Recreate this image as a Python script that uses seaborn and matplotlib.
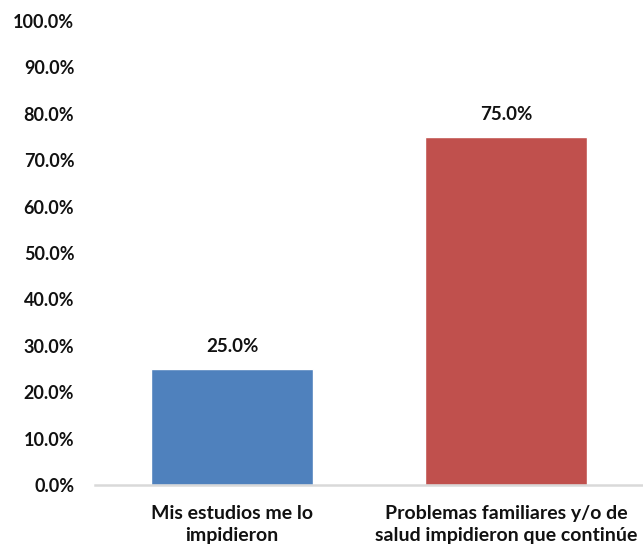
import matplotlib
matplotlib.use('Agg')
import matplotlib.pyplot as plt
import seaborn as sns
import pandas as pd
from matplotlib.ticker import PercentFormatter

# data
categories = ['Mis estudios me lo\nimpidieron',
              'Problemas familiares y/o de\nsalud impidieron que continúe']
values = [25.0, 75.0]
colors = ['#4F81BD', '#C0504D']
yticks = [0, 10, 20, 30, 40, 50, 60, 70, 80, 90, 100]

df = pd.DataFrame({'cat': categories, 'val': values})

sns.set_style('white')
plt.rcParams['font.family'] = ['Lato', 'DejaVu Sans']

fig = plt.figure(figsize=(6.43, 5.50), dpi=100)
ax = fig.add_axes([0.148, 0.118, 0.852, 0.844])

sns.barplot(data=df, x='cat', y='val', hue='cat', palette=colors,
            width=0.59, saturation=1, legend=False, ax=ax)

# value labels above the bars
for i, v in enumerate(values):
    ax.text(i, v + 3.0, f'{v:.1f}%', ha='center', va='bottom',
            fontsize=13.5, fontweight='bold', color='#111111')

ax.set_ylim(0, 100)
ax.set_xlim(-0.5, 1.5)
ax.set_yticks(yticks)
ax.yaxis.set_major_formatter(PercentFormatter(decimals=1))
ax.set_xlabel('')
ax.set_ylabel('')
ax.tick_params(axis='y', length=0, labelsize=13, colors='#111111', pad=15)
ax.tick_params(axis='x', length=0, labelsize=14, colors='#111111', pad=14)
for lab in ax.get_yticklabels():
    lab.set_fontweight('bold')
for lab in ax.get_xticklabels():
    lab.set_fontweight('bold')
    lab.set_linespacing(1.4)

for s in ['left', 'right', 'top']:
    ax.spines[s].set_visible(False)
ax.spines['bottom'].set_color('#D9D9D9')
ax.spines['bottom'].set_linewidth(1.8)

plt.savefig('out.png', dpi=100)
